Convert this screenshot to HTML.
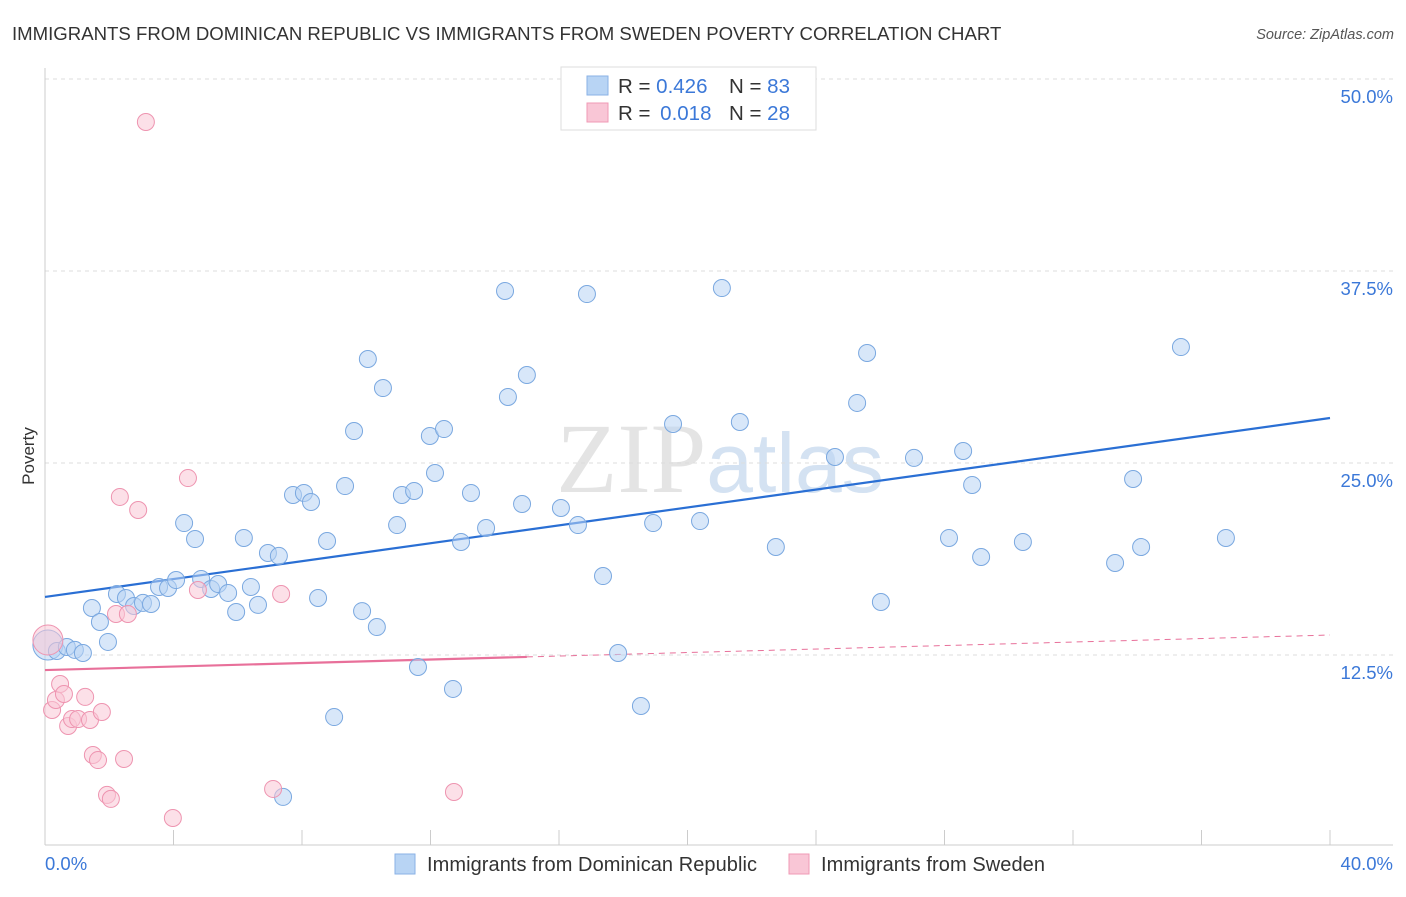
<!DOCTYPE html>
<html><head><meta charset="utf-8">
<style>
body{margin:0;background:#fff;font-family:"Liberation Sans",sans-serif;}
</style></head>
<body>
<svg id="chart" width="1406" height="892" xmlns="http://www.w3.org/2000/svg" style="font-family:'Liberation Sans',sans-serif">
<text x="12" y="40" font-size="18.6" fill="#333">IMMIGRANTS FROM DOMINICAN REPUBLIC VS IMMIGRANTS FROM SWEDEN POVERTY CORRELATION CHART</text>
<text x="1394" y="39" font-size="14.5" fill="#555" font-style="italic" text-anchor="end">Source: ZipAtlas.com</text>
<text x="720" y="492" font-size="100" fill="#e4e4e4" text-anchor="middle" font-family="'Liberation Serif',serif">ZIP<tspan fill="#d4e2f2" font-family="'Liberation Sans',sans-serif" font-size="84">atlas</tspan></text>
<g id="grid"></g>
<g id="axes"></g>
<g id="lines"></g>
<g id="pts"></g>
<text transform="translate(34,456) rotate(-90)" font-size="17" fill="#333" text-anchor="middle">Poverty</text>
<g>
<rect x="561" y="67" width="255" height="63" fill="#fff" stroke="#ddd"/>
<rect x="587" y="76" width="21" height="19" fill="#b8d4f4" stroke="#8ab2e6"/>
<rect x="587" y="103" width="21" height="19" fill="#f9c6d6" stroke="#f09ab5"/>
<text x="618" y="93" font-size="20.5" fill="#333">R = <tspan fill="#3b78d8">0.426</tspan></text>
<text x="729" y="93" font-size="20.5" fill="#333">N = <tspan fill="#3b78d8">83</tspan></text>
<text x="618" y="120" font-size="20.5" fill="#333">R = <tspan fill="#3b78d8" dx="4">0.018</tspan></text>
<text x="729" y="120" font-size="20.5" fill="#333">N = <tspan fill="#3b78d8">28</tspan></text>
</g>
<g>
<rect x="395" y="854" width="20" height="20" fill="#b8d4f4" stroke="#8ab2e6"/>
<text x="427" y="871" font-size="20" fill="#333" textLength="330">Immigrants from Dominican Republic</text>
<rect x="789" y="854" width="20" height="20" fill="#f9c6d6" stroke="#f09ab5"/>
<text x="821" y="871" font-size="20" fill="#333" textLength="224">Immigrants from Sweden</text>
</g>
</svg>
<script>
const yTicks=[12.5,25,37.5,50];
const yTickLabels=["12.5%","25.0%","37.5%","50.0%"];
const xTicks=[0,4,8,12,16,20,24,28,32,36,40];
const xLabels=["0.0%","40.0%"];
const blueX=[0.09,0.37,0.68,0.93,1.18,1.46,1.71,1.96,2.24,2.52,2.77,3.05,3.30,3.55,3.83,4.08,4.33,4.67,4.86,5.17,5.39,5.70,5.95,6.19,6.41,6.63,6.94,7.28,7.72,8.06,8.28,8.50,8.78,9.00,9.34,9.62,9.87,10.05,10.33,10.52,10.96,11.11,11.49,11.61,11.98,12.14,12.42,12.70,12.95,13.26,13.73,14.32,14.41,14.85,15.00,16.06,16.59,16.87,17.37,17.84,18.55,18.93,19.55,20.39,21.07,21.63,22.75,24.59,25.28,25.59,26.02,27.05,28.14,28.58,28.86,29.14,30.44,33.31,33.87,34.12,35.36,36.76,7.41];
const blueY=[13.15,12.76,13.02,12.83,12.63,15.56,14.65,13.35,16.47,16.21,15.69,15.89,15.82,16.93,16.86,17.38,21.09,20.05,17.45,16.80,17.12,16.54,15.30,20.12,16.93,15.76,19.14,18.95,22.92,23.05,22.46,16.21,19.92,8.46,23.50,27.08,15.36,31.77,14.32,29.88,20.96,22.92,23.18,11.72,26.76,24.35,27.21,10.29,19.86,23.05,20.77,36.20,29.30,22.33,30.73,22.07,20.96,36.00,17.64,12.63,9.18,21.09,27.54,21.22,36.39,27.67,19.53,25.39,28.91,32.16,15.95,25.33,20.12,25.78,23.57,18.88,19.86,18.49,23.96,19.53,32.55,20.12,3.26];
const pinkX=[3.14,4.45,2.33,2.90,4.76,7.35,2.21,2.58,0.22,0.34,0.47,0.59,0.72,0.84,1.03,1.25,1.40,1.77,1.49,1.65,2.46,1.93,2.05,3.98,7.10,12.73,0.09];
const pinkY=[47.20,24.02,22.79,21.94,16.73,16.47,15.17,15.17,8.92,9.57,10.61,9.96,7.88,8.33,8.33,9.77,8.27,8.79,5.99,5.66,5.73,3.39,3.13,1.89,3.78,3.58,13.48];
const blueTrend=[16.28,27.93];
const pinkTrend=[11.52,13.80];
const NS="http://www.w3.org/2000/svg";
const X=v=>45+v*32.125, Y=v=>847-v*15.36;
function mk(tag,attrs,parent){const e=document.createElementNS(NS,tag);for(const k in attrs)e.setAttribute(k,attrs[k]);document.getElementById(parent).appendChild(e);return e;}
yTicks.forEach((t,i)=>{
 const g=mk('line',{x1:45,x2:1393,y1:Y(t),y2:Y(t),stroke:'#ddd','stroke-dasharray':'4,4'},'grid');
 
 
 const l=mk('text',{x:1393,y:Y(t)+24,'font-size':18.5,fill:'#3b78d8','text-anchor':'end'},'grid');
 l.textContent=yTickLabels[i];
 
 
});
const ax=mk('line',{x1:45,x2:1393,y1:845,y2:845,stroke:'#ccc'},'axes');


const ay=mk('line',{x1:45,x2:45,y1:68,y2:845,stroke:'#ccc'},'axes');


xTicks.forEach(t=>{
 const k=mk('line',{x1:X(t),x2:X(t),y1:830,y2:845,stroke:'#ccc'},'axes');
 
 
});
[[0,'start'],[40,'end']].forEach((p,i)=>{
 const l=mk('text',{x:i?1393:45,y:870,'font-size':18.5,fill:'#3b78d8','text-anchor':p[1]},'axes');
 l.textContent=xLabels[i];
 
 
});
function pts(xs,ys,fill,stroke,name){xs.forEach((x,i)=>{
 const big=(i===0&&name==='blue-point')||(i===xs.length-1&&name==='pink-point');
 const c=mk('circle',{cx:X(x),cy:Y(ys[i]),r:big?15:8.5,fill:fill,'fill-opacity':0.55,stroke:stroke,'stroke-width':1},'pts');
 
 
});}
pts(blueX,blueY,'#b8d4f4','#7aa8e0','blue-point');
pts(pinkX,pinkY,'#f9c6d6','#ee94b0','pink-point');
const bl=mk('line',{x1:X(0),y1:Y(blueTrend[0]),x2:X(40),y2:Y(blueTrend[1]),stroke:'#2a6fd4','stroke-width':2.2},'lines');


const py=x=>pinkTrend[0]+(pinkTrend[1]-pinkTrend[0])*x/40;
const pl=mk('line',{x1:X(0),y1:Y(py(0)),x2:X(15),y2:Y(py(15)),stroke:'#e8709a','stroke-width':2.2},'lines');


const pd=mk('line',{x1:X(15),y1:Y(py(15)),x2:X(40),y2:Y(py(40)),stroke:'#e8709a','stroke-width':1,'stroke-dasharray':'6,5'},'lines');


</script>
</body></html>
